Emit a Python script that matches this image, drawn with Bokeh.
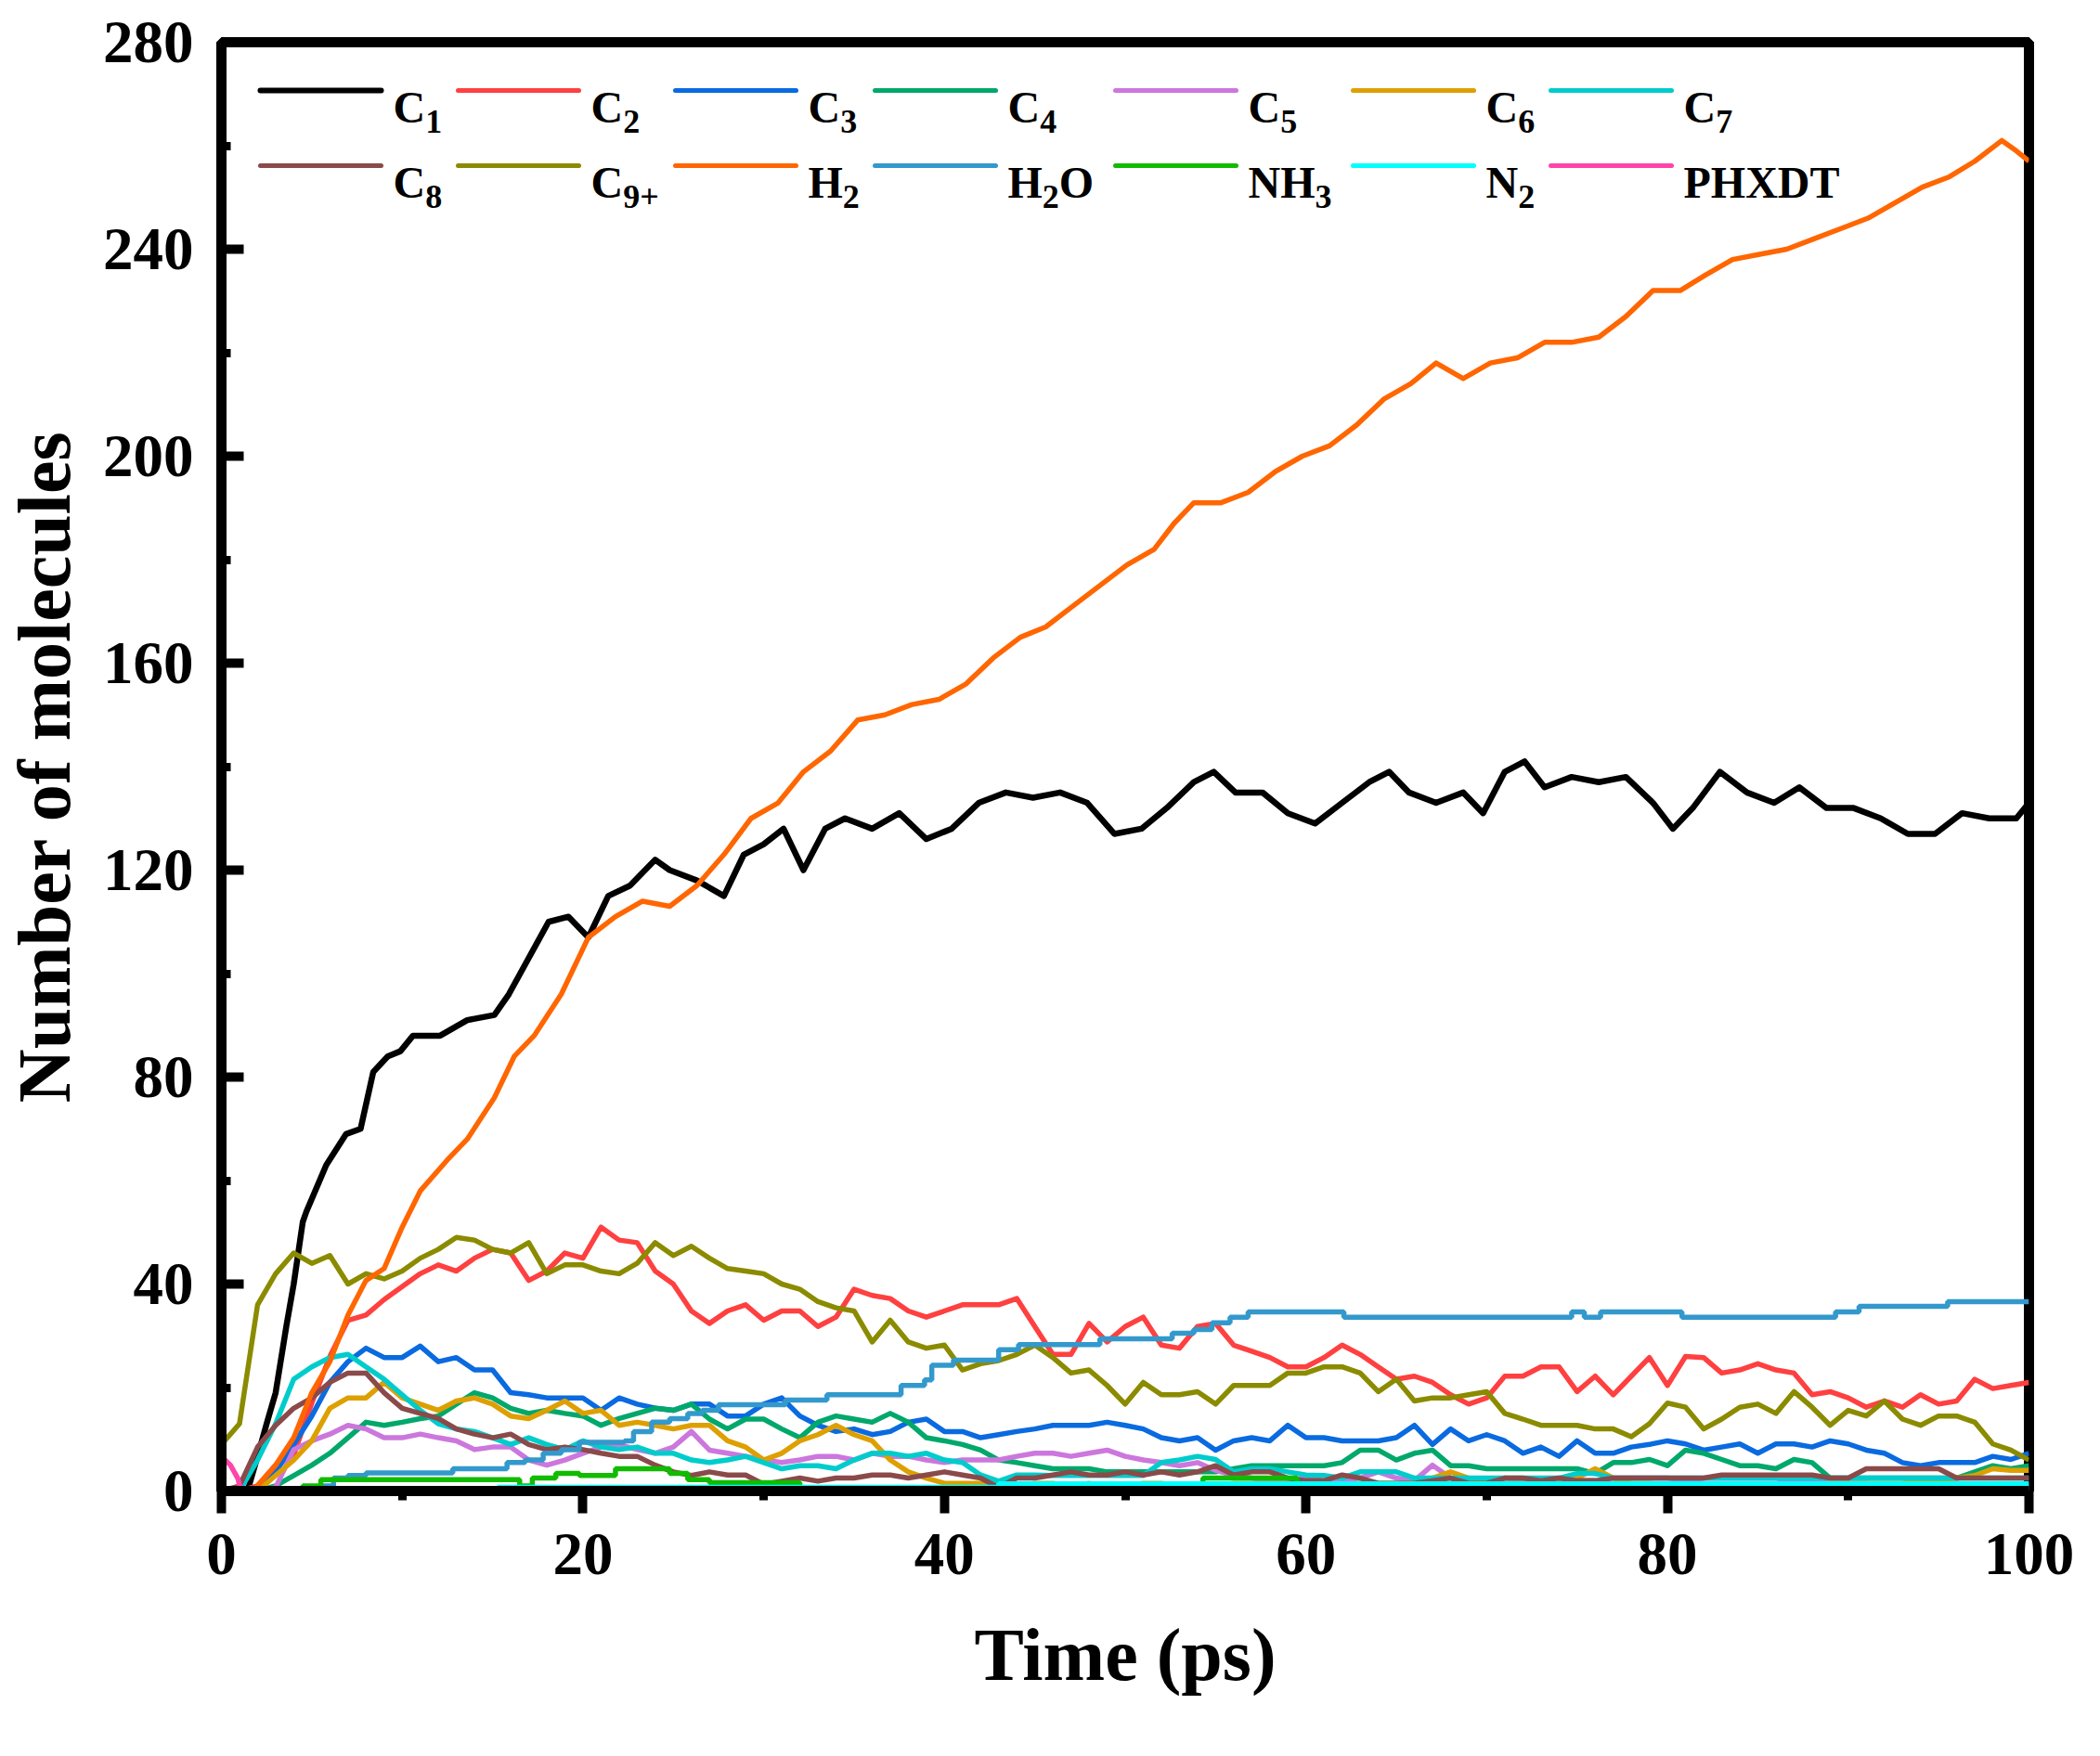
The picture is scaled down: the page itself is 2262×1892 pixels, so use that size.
from bokeh.plotting import figure
from bokeh.models import Range1d, SingleIntervalTicker, Label, Arrow
from bokeh.embed import file_html
from bokeh.resources import INLINE

FONT = "Liberation Serif"

# ---------------- data (time in ps, number of molecules) ----------------
t_grid = list(range(0, 101))

c1_t = [0, 1.0, 1.5, 2.0, 2.5, 3.0, 3.6, 4.0, 4.5, 4.7,
        5.8, 6.9, 7.7, 8.4, 9.2, 9.9, 10.6, 12.1, 13.6, 15.1,
        15.9, 17.0, 18.1, 19.2, 20.3, 21.4, 22.6, 24.0, 24.8, 26.3,
        27.8, 28.9, 30.0, 31.1, 32.2, 33.4, 34.5, 36.0, 37.5, 39.0,
        40.4, 41.9, 43.4, 44.9, 46.4, 47.9, 49.4, 50.9, 52.3, 53.8,
        54.9, 56.1, 57.6, 59.0, 60.5, 62.0, 63.5, 64.6, 65.7, 67.2,
        68.7, 69.8, 71.0, 72.1, 73.2, 74.7, 76.2, 77.7, 79.2, 80.3,
        81.4, 82.9, 84.4, 85.9, 87.3, 88.8, 90.3, 91.8, 93.3, 94.8,
        96.3, 97.8, 99.3, 100]
c1 = [0, 0, 0.7, 6.7, 13, 19, 32, 40, 52, 54,
      63, 69, 70, 81, 84, 85, 88, 88, 91, 92,
      96, 103, 110, 111, 107, 115, 117, 122, 120, 118,
      115, 123, 125, 128, 120, 128, 130, 128, 131, 126,
      128, 133, 135, 134, 135, 133, 127, 128, 132, 137,
      139, 135, 135, 131, 129, 133, 137, 139, 135, 133,
      135, 131, 139, 141, 136, 138, 137, 138, 133, 128,
      132, 139, 135, 133, 136, 132, 132, 130, 127, 127,
      131, 130, 130, 133]

h2_t = [0, 1.8, 2, 3, 4, 5, 6, 7, 8, 9,
        10, 11, 12.5, 13.6, 15.1, 16.2, 17.3, 18.8, 20.3, 21.8,
        23.3, 24.8, 26.3, 27.8, 29.3, 30.8, 32.2, 33.7, 35.2, 36.7,
        38.2, 39.7, 41.2, 42.7, 44.2, 45.6, 47.1, 48.6, 50.1, 51.6,
        52.7, 53.8, 55.3, 56.8, 58.3, 59.8, 61.3, 62.8, 64.3, 65.8,
        67.2, 68.7, 70.2, 71.7, 73.2, 74.7, 76.2, 77.7, 79.2, 80.7,
        82.1, 83.6, 85.1, 86.6, 88.1, 89.6, 91.1, 92.6, 94.1, 95.6,
        97.0, 98.5, 99.3, 100]
h2 = [0, 0, 1, 5, 10.3, 19, 25, 34, 40.7, 43,
      51, 58, 64, 68, 76, 84, 88, 96, 107, 111,
      114, 113, 117, 123, 130, 133, 139, 143, 149, 150,
      152, 153, 156, 161, 165, 167, 171, 175, 179, 182,
      187, 191, 191, 193, 197, 200, 202, 206, 211, 214,
      218, 215, 218, 219, 222, 222, 223, 227, 232, 232,
      235, 238, 239, 240, 242, 244, 246, 249, 252, 254,
      257, 261, 259, 257]

c2 = [0, 0, 1, 5, 7, 17, 26, 33, 34, 37,
      39.5, 42, 43.7, 42.5, 45, 46.7, 46, 40.7, 42.5, 46,
      45, 51, 48.5, 48, 42.5, 40, 34.8, 32.4, 34.8, 36,
      33, 34.8, 34.8, 31.8, 33.6, 39, 37.8, 37.2, 34.8, 33.6,
      34.8, 36, 36, 36, 37.2, 31.8, 26.4, 26.4, 32.4, 28.8,
      31.8, 33.6, 28.2, 27.6, 31.8, 32.4, 28.2, 27, 25.8, 24,
      24, 25.8, 28.2, 26.4, 24, 21.6, 22.2, 21, 18.6, 16.8,
      18, 22.2, 22.2, 24, 24, 19.2, 22.2, 18.6, 22.2, 25.8,
      20.4, 26, 25.8, 22.8, 23.4, 24.6, 23.4, 22.8, 18.6, 19.2,
      18, 16.2, 17.4, 16.2, 18.6, 16.8, 17.4, 21.6, 19.8, 20.4,
      21]
c3 = [0, 0, 0, 3.7, 9, 14.5, 21, 25, 27.6, 25.8,
      25.8, 28, 25, 25.8, 23.4, 23.4, 19, 18.6, 18, 18,
      18, 15.6, 18, 16.8, 16, 15.6, 16.8, 16.8, 14.5, 14.5,
      16.8, 18, 14.5, 12.7, 11.5, 12, 10.9, 11.5, 13.3, 13.9,
      11.5, 11.5, 10.3, 10.9, 11.5, 12, 12.7, 12.7, 12.7, 13.3,
      12.7, 12, 10.3, 9.7, 10.3, 7.9, 9.7, 10.3, 9.7, 12.7,
      10.3, 10.3, 9.7, 9.7, 9.7, 10.3, 12.7, 9, 12, 9.7,
      10.9, 9.7, 7.3, 8.5, 6.7, 9.7, 7.3, 7.3, 8.5, 9,
      9.7, 9.1, 7.9, 8.5, 9.1, 7.3, 9.1, 9.1, 8.5, 9.7,
      9.1, 7.9, 7.3, 5.5, 4.9, 5.5, 5.5, 5.5, 6.7, 6.1,
      7.3]
c4 = [0, 0, 0, 1, 3, 5, 7.3, 10.3, 13.3, 12.7,
      13.3, 14, 14.5, 16.8, 19, 18, 16, 15, 15.6, 15,
      14.5, 12.7, 14, 15, 16, 15.6, 16.8, 13.9, 12, 13.9,
      13.9, 12, 10.3, 13.3, 14.5, 13.9, 13.3, 15, 13.3, 10.3,
      9.7, 9, 7.9, 6, 5.5, 4.9, 4.3, 4.3, 4.3, 3.7,
      3.7, 3.7, 3.7, 3.7, 3.7, 3.7, 4.3, 4.9, 4.9, 4.9,
      4.9, 4.9, 5.5, 7.9, 7.9, 6, 7.3, 7.9, 4.9, 4.9,
      4.3, 4.3, 4.3, 4.3, 4.3, 4.3, 3.4, 5.5, 5.5, 6.1,
      4.9, 7.9, 7.3, 6.1, 4.9, 4.9, 4.3, 6.1, 5.5, 2.5,
      2.5, 2.5, 2.5, 2.5, 2.5, 2.5, 2.5, 3.7, 4.9, 4.3,
      4.9]
c5 = [0, 0, 0, 0.7, 8, 9.7, 11, 12.7, 12, 10.3,
      10.3, 11, 10.3, 9.7, 8, 8.5, 8.5, 6, 5, 6,
      7.3, 8.5, 9, 8, 7.3, 8.5, 11.5, 7.9, 7.3, 6.7,
      6, 5.5, 6, 6.7, 6.7, 6, 7.3, 6.7, 6.7, 6,
      5.5, 6, 6, 6, 6.7, 7.3, 7.3, 6.7, 7.3, 7.9,
      6.7, 6, 5.5, 4.9, 5.5, 4, 3, 2.5, 2, 2,
      2.5, 2, 2, 2.5, 3.7, 2.5, 2, 5, 2.5, 2,
      2, 2.5, 2, 2, 1.5, 2, 2, 2.5, 2.5, 2.5,
      2.5, 2, 1.5, 1.5, 1.5, 1.5, 1.5, 2, 2, 1.5,
      1.5, 1.5, 1, 1, 1, 1.5, 1.5, 1, 1, 1,
      1]
c6 = [0, 0, 0, 3, 6, 9.7, 16, 18, 18, 21,
      18, 16.8, 15.6, 17.4, 18, 16.8, 14.5, 14, 15.6, 17.4,
      15, 15.6, 12.7, 13.3, 12.7, 12, 12.7, 12.7, 9.7, 8.5,
      6, 7.3, 9.7, 10.9, 12.7, 10.9, 9.7, 6, 3.7, 2.5,
      1.5, 1.5, 1.5, 1.5, 1, 1.5, 1.5, 1, 1.5, 1,
      1, 1.5, 1.5, 1, 1, 1, 1.5, 1.5, 1.5, 1.5,
      1.5, 1, 1, 1.5, 1.5, 1.5, 1.5, 2.5, 3.7, 2.5,
      1.5, 1.5, 1.5, 1.5, 1.5, 2.5, 4.3, 2.5, 1.5, 1.5,
      1, 1, 1, 1, 1, 1, 1, 1, 1, 1.5,
      1.5, 1.5, 1.5, 1.5, 2, 2, 2.5, 3, 4.3, 4,
      4]
c7 = [0, 0, 6, 13, 21.6, 24, 25.8, 26.4, 24, 21.6,
      18.6, 15.6, 13, 12, 11.5, 10.3, 9, 10.3, 9, 8,
      9.7, 8.5, 8, 8.5, 7.3, 7.3, 6, 5.5, 6, 6.7,
      5.5, 4.3, 4.9, 4.9, 4.3, 6, 7.3, 7.3, 6.7, 7.3,
      6, 5.5, 3.1, 1.9, 3.1, 3.1, 3, 3, 3, 3,
      3, 3, 5.5, 6, 6.7, 6.1, 3.7, 4.3, 4.3, 3.7,
      3.1, 3, 2.5, 3.7, 3.7, 3.7, 2.5, 2.5, 2.5, 2.5,
      2.5, 2.5, 2.5, 2.5, 2.5, 3.4, 3.4, 2.5, 2.5, 2.5,
      2.5, 2.5, 2.5, 2.5, 2.5, 2.5, 2.5, 2.5, 2.5, 2.5,
      2.5, 2.5, 2.5, 2.5, 2.5, 2.5, 2.5, 2.5, 2.5, 2.5,
      2.5]
c8 = [0, 1, 8.5, 12.7, 16, 18, 21, 22.8, 22.8, 19,
      16, 15, 14, 12, 11, 10.3, 11, 9, 8, 8.5,
      8, 7.3, 6.7, 6.7, 5, 3.7, 3, 3.7, 3.1, 3.1,
      1.3, 1.9, 2.5, 1.9, 2.5, 2.5, 3.1, 3.1, 2.5, 3.1,
      3.7, 3.1, 2.5, 0.7, 2.5, 2.5, 3.1, 3.7, 3.1, 3.1,
      3.7, 3.1, 3.7, 3.1, 3.7, 4.9, 3.1, 3.7, 3.7, 2.5,
      2, 2, 3.1, 2.5, 1.5, 1.5, 1.5, 2, 2.5, 1.5,
      1.5, 2.5, 2.5, 2, 2.5, 2, 2, 2.5, 2.5, 2.5,
      2.5, 2.5, 2.5, 3.1, 3.1, 3.1, 3.1, 3.1, 3.1, 2.5,
      2.5, 4.3, 4.3, 4.3, 4.3, 4.3, 2.5, 2.5, 2.5, 2.5,
      2.5]
c9p = [9, 13, 36, 42, 46, 44, 45.5, 40, 42, 41,
       42.5, 45, 46.7, 49, 48.5, 46.7, 46, 48, 42, 43.7,
       43.7, 42.5, 42, 44, 48, 45.5, 47.3, 45, 43, 42.5,
       42, 40, 39, 36.6, 35.4, 34.8, 28.8, 33, 28.8, 27.6,
       28.2, 23.4, 24.6, 25.2, 26.4, 28.2, 25.8, 22.8, 23.4, 20.4,
       16.8, 21, 18.6, 18.6, 19.2, 16.8, 20.4, 20.4, 20.4, 22.8,
       22.8, 24, 24, 22.8, 19.2, 21.6, 17.4, 18, 18, 18.6,
       19.2, 15, 13.9, 12.7, 12.7, 12.7, 12, 12, 10.5, 13,
       17, 16.2, 12, 13.9, 16.2, 16.8, 15, 19.2, 16.2, 12.7,
       15.6, 14.5, 17.4, 13.9, 12.7, 14.5, 14.5, 13.3, 9.1, 7.9,
       6]

# step-like species: value holds from each time until the next one
h2o_t = [0, 5.5, 6.2, 7.0, 8.0, 12.8, 15.8, 16.8, 17.8, 18.8,
         19.8, 22.3, 22.8, 23.8, 24.8, 25.8, 26.6, 27.5, 31.2, 33.5,
         37.6, 38.9, 39.3, 40.5, 43.0, 44.1, 48.6, 52.6, 53.8, 54.8,
         55.8, 56.8, 62.1, 74.7, 75.4, 76.3, 80.8, 89.3, 90.6, 95.5,
         100]
h2o = [0, 1, 2.5, 3, 3.5, 4.3, 5.5, 6, 7.3, 8,
       9.4, 9.7, 11.5, 13.3, 14, 15, 15.6, 16.7, 17.6, 18.6,
       20.4, 21.5, 24.3, 25.3, 27.3, 28.3, 29.4, 30.5, 31.2, 32.5,
       33.6, 34.6, 33.6, 34.6, 33.6, 34.6, 33.6, 34.6, 35.7, 36.6,
       36.6]
nh3_t = [0, 4.5, 5.5, 16.5, 17.2, 18.5, 19.8, 21.8, 24.8, 25.8, 27.0, 32.0, 54.3, 59.5, 100]
nh3 = [0, 1, 2.2, 1, 2.5, 3.4, 3, 4.3, 3.4, 2.2, 1.6, 0.6, 2.5, 0.6, 0.6]
n2_t = [0, 15.3, 43.0, 100]
n2 = [0, 0.7, 1.4, 1.4]
phxdt_t = [0, 0.5, 0.9, 1.1, 100]
phxdt = [6.7, 5, 2.5, 0, 0]

# legend text pieces: (text, is_subscript)
legend_labels = [
    [("C", 0), ("1", 1)], [("C", 0), ("2", 1)], [("C", 0), ("3", 1)], [("C", 0), ("4", 1)],
    [("C", 0), ("5", 1)], [("C", 0), ("6", 1)], [("C", 0), ("7", 1)], [("C", 0), ("8", 1)],
    [("C", 0), ("9+", 1)], [("H", 0), ("2", 1)], [("H", 0), ("2", 1), ("O", 0)],
    [("NH", 0), ("3", 1)], [("N", 0), ("2", 1)], [("PHXDT", 0)],
]
colors = ["#000000", "#FF4040", "#0A6AE0", "#00A86B", "#CC77DD", "#DDA000", "#00CCCC",
          "#8B4A4A", "#8B8B00", "#FF6600", "#3399CC", "#11BB00", "#00FFFF", "#FF44AA"]

series = [
    (c1_t, c1, "line"), (t_grid, c2, "line"), (t_grid, c3, "line"), (t_grid, c4, "line"),
    (t_grid, c5, "line"), (t_grid, c6, "line"), (t_grid, c7, "line"), (t_grid, c8, "line"),
    (t_grid, c9p, "line"), (h2_t, h2, "line"), (h2o_t, h2o, "step"), (nh3_t, nh3, "step"),
    (n2_t, n2, "step"), (phxdt_t, phxdt, "line"),
]

# ---------------- figure ----------------
p = figure(
    frame_width=1947, frame_height=1561,
    min_border_left=234, min_border_right=65, min_border_top=45, min_border_bottom=270,
    x_range=Range1d(0, 100), y_range=Range1d(0, 280),
    output_backend="svg", toolbar_location=None,
    x_axis_label="Time (ps)", y_axis_label="Number of molecules",
)
p.background_fill_color = "white"
p.border_fill_color = "white"
p.outline_line_color = "black"
p.outline_line_width = 11
p.xgrid.visible = False
p.ygrid.visible = False

for (xs, ys, kind), col in zip(series, colors):
    lw = 6.5 if col == "#000000" else 5.5
    if kind == "step":
        p.step(xs, ys, mode="after", line_color=col, line_width=lw)
    else:
        p.line(xs, ys, line_color=col, line_width=lw, line_join="round")

p.xaxis.ticker = SingleIntervalTicker(interval=20, num_minor_ticks=2)
p.yaxis.ticker = SingleIntervalTicker(interval=40, num_minor_ticks=2)

for ax in (p.xaxis, p.yaxis):
    ax.axis_line_width = 11
    ax.major_tick_line_width = 10
    ax.minor_tick_line_width = 9
    ax.major_label_text_font = FONT
    ax.major_label_text_font_style = "bold"
    ax.major_label_text_font_size = "65px"
    ax.major_label_text_color = "black"
    ax.axis_label_text_font = FONT
    ax.axis_label_text_font_style = "bold"
    ax.axis_label_text_font_size = "80px"
    ax.axis_label_text_color = "black"

# ticks point out on the time axis and in on the count axis
p.xaxis.major_tick_out = 24
p.xaxis.major_tick_in = 0
p.xaxis.minor_tick_out = 10
p.xaxis.minor_tick_in = 0
p.xaxis.major_label_standoff = 22
p.xaxis.axis_label_standoff = 40

p.yaxis.major_tick_in = 24
p.yaxis.major_tick_out = 0
p.yaxis.minor_tick_in = 10
p.yaxis.minor_tick_out = 0
p.yaxis.major_label_standoff = 30
p.yaxis.axis_label_standoff = 16

# ---------------- legend, drawn by hand in frame pixels ----------------
char_w = {"C": 0.722, "H": 0.778, "N": 0.722, "O": 0.778, "P": 0.611, "X": 0.722,
          "D": 0.722, "T": 0.667, "+": 0.570}
col_x = [42, 255, 489, 704, 963, 1219, 1432]   # line starts, from frame left
row_y = [1509, 1428]                            # line heights, from frame bottom
main_px, sub_px = 48, 36

for i, (pieces, col) in enumerate(zip(legend_labels, colors)):
    r, c = divmod(i, 7)
    x0, y0 = col_x[c], row_y[r]
    p.add_layout(Arrow(x_start=x0, y_start=y0, x_end=x0 + 130, y_end=y0,
                       start_units="screen", end_units="screen", start=None, end=None,
                       line_color=col, line_width=6 if i == 0 else 5, line_cap="round"))
    x = x0 + 143
    for text, sub in pieces:
        size = sub_px if sub else main_px
        p.add_layout(Label(x=x, y=y0 - (33 if sub else 18), x_units="screen", y_units="screen",
                           text=text, text_font=FONT, text_font_style="bold",
                           text_font_size=f"{size}px", text_color="black",
                           text_baseline="alphabetic", text_align="left"))
        x += sum(char_w.get(ch, 0.5) for ch in text) * size

open("out.html", "w").write(file_html(p, INLINE))
